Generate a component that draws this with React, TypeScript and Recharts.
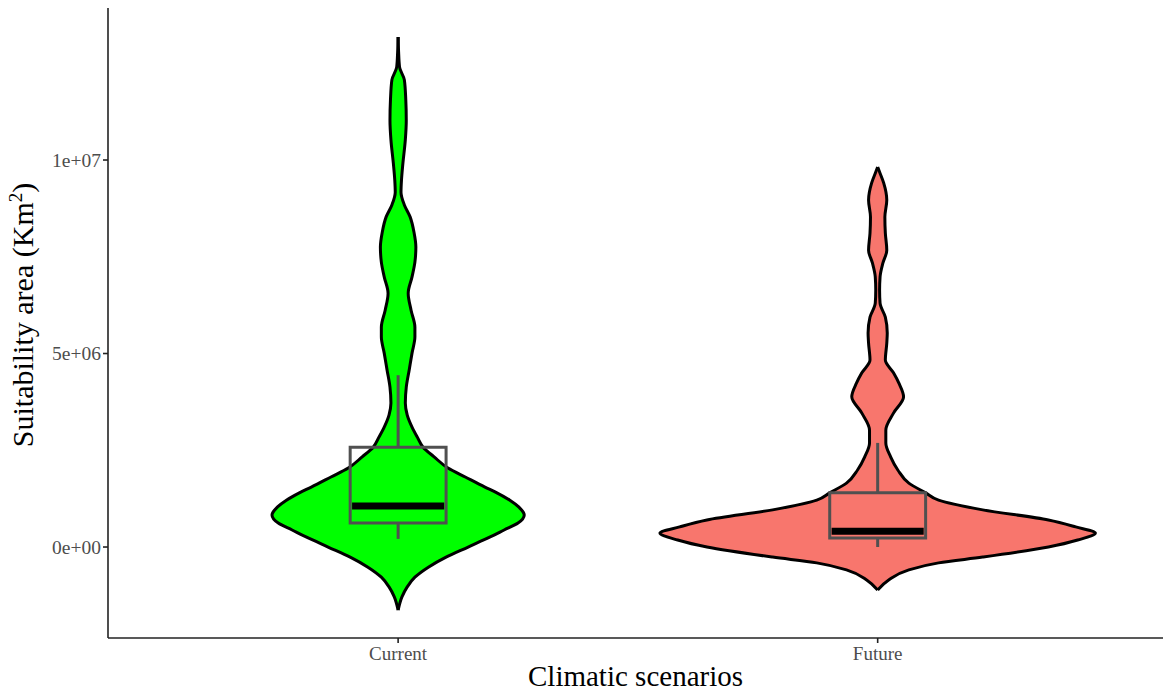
import { ComposedChart, Area, XAxis, YAxis, ReferenceArea, ReferenceLine, Label } from "recharts"

const categories = ["Current", "Future"]
const positions = [1, 2]
const fills = ["#00FF00", "#F8766D"]

// violin outlines: suitability area (Km²) and half width of the violin (category units)
const currentLevels = [
  13.18e6, 12.79e6, 12.4e6, 12.07e6, 11.55e6, 11.03e6, 10.52e6, 9.92e6, 9.48e6, 9.17e6,
  8.84e6, 8.53e6, 8.14e6, 7.75e6, 7.36e6, 6.98e6, 6.56e6, 6.12e6, 5.68e6, 5.43e6,
  5.01e6, 4.57e6, 4.13e6, 3.72e6, 3.41e6, 3.1e6, 2.84e6, 2.58e6, 2.33e6, 2.04e6,
  1.81e6, 1.55e6, 1.4e6, 1.21e6, 1.03e6, 0.83e6, 0.62e6, 0.44e6, 0.26e6, 0,
  -0.26e6, -0.52e6, -0.78e6, -1.03e6, -1.29e6, -1.63e6,
]
const currentHalfWidth = [
  0, 0.001, 0.003, 0.013, 0.016, 0.017, 0.015, 0.01, 0.007, 0.006,
  0.013, 0.025, 0.033, 0.037, 0.035, 0.029, 0.021, 0.027, 0.035, 0.035,
  0.029, 0.023, 0.017, 0.015, 0.019, 0.029, 0.04, 0.052, 0.075, 0.104,
  0.14, 0.181, 0.206, 0.233, 0.252, 0.263, 0.25, 0.221, 0.192, 0.146,
  0.1, 0.063, 0.035, 0.019, 0.008, 0,
]
const futureLevels = [
  9.82e6, 9.69e6, 9.41e6, 8.97e6, 8.53e6, 8.11e6, 7.67e6, 7.34e6, 6.98e6, 6.64e6,
  6.3e6, 5.94e6, 5.53e6, 5.27e6, 4.83e6, 4.5e6, 4.24e6, 3.88e6, 3.46e6, 3.02e6,
  2.69e6, 2.33e6, 1.99e6, 1.65e6, 1.4e6, 1.21e6, 0.96e6, 0.7e6, 0.52e6, 0.36e6,
  0.18e6, 0, -0.26e6, -0.41e6, -0.59e6, -0.85e6, -1.11e6,
]
const futureHalfWidth = [
  0, 0.004, 0.0125, 0.019, 0.015, 0.016, 0.019, 0.011, 0.005, 0.004,
  0.005, 0.016, 0.02, 0.019, 0.016, 0.033, 0.044, 0.054, 0.033, 0.017,
  0.017, 0.027, 0.042, 0.065, 0.1, 0.127, 0.219, 0.356, 0.413, 0.454,
  0.417, 0.356, 0.219, 0.127, 0.065, 0.023, 0,
]

// boxplot statistics
const whiskerLow = [0.21e6, 0.0]
const q1 = [0.62e6, 0.23e6]
const median = [1.06e6, 0.41e6]
const q3 = [2.58e6, 1.4e6]
const whiskerHigh = [4.44e6, 2.69e6]

const yTicks = [0, 5e6, 1e7]
const yTickLabels = ["0e+00", "5e+06", "1e+07"]

const violins = [
  currentLevels.map((v, i) => ({ v, span: [positions[0] - currentHalfWidth[i], positions[0] + currentHalfWidth[i]] })),
  futureLevels.map((v, i) => ({ v, span: [positions[1] - futureHalfWidth[i], positions[1] + futureHalfWidth[i]] })),
]

const boxHalf = 0.1
const boxColor = "#505050"
const font = "'Liberation Serif', 'Times New Roman', serif"

export default function App() {
  return (
    <div style={{ position: "absolute", left: 0, top: 0, background: "#fff" }}>
      <ComposedChart
        width={1163}
        height={691}
        layout="vertical"
        margin={{ top: 8, right: 0, bottom: 0, left: 48 }}
        style={{ fontFamily: font }}
      >
        <XAxis
          type="number"
          domain={[0.395, 2.595]}
          allowDataOverflow
          ticks={positions}
          tickFormatter={(p) => categories[positions.indexOf(p)]}
          height={53}
          stroke="#222"
          strokeWidth={1.6}
          tickSize={5}
          tickMargin={4}
          tick={{ fill: "#4d4d4d", fontSize: 19, fontFamily: font }}
        >
          <Label
            value="Climatic scenarios"
            position="insideBottom"
            offset={5}
            style={{ fill: "#000", fontSize: 29, fontFamily: font }}
          />
        </XAxis>
        <YAxis
          type="number"
          dataKey="v"
          reversed
          domain={[-2.351e6, 13.928e6]}
          allowDataOverflow
          ticks={yTicks}
          tickFormatter={(v) => yTickLabels[yTicks.indexOf(v)]}
          width={60}
          stroke="#222"
          strokeWidth={1.6}
          tickSize={5}
          tick={{ fill: "#4d4d4d", fontSize: 19.5, fontFamily: font }}
        >
          <Label
            content={({ viewBox }: any) => {
              const cy = viewBox.y + viewBox.height / 2 - 8
              return (
                <text
                  x={33}
                  y={cy}
                  transform={`rotate(-90, 33, ${cy})`}
                  textAnchor="middle"
                  style={{ fill: "#000", fontSize: 30, fontFamily: font }}
                >
                  Suitability area (Km<tspan dy={-11} fontSize={19}>2</tspan><tspan dy={11}>)</tspan>
                </text>
              )
            }}
          />
        </YAxis>
        {violins.map((d, i) => (
          <Area
            key={categories[i]}
            data={d}
            dataKey="span"
            type="monotone"
            fill={fills[i]}
            fillOpacity={1}
            stroke="#000"
            strokeWidth={3}
            isAnimationActive={false}
            dot={false}
            activeDot={false}
          />
        ))}
        {positions.map((p, i) => (
          <ReferenceArea
            key={"box" + i}
            x1={p - boxHalf}
            x2={p + boxHalf}
            y1={q1[i]}
            y2={q3[i]}
            fill="none"
            fillOpacity={0}
            stroke={boxColor}
            strokeWidth={3}
            ifOverflow="visible"
          />
        ))}
        {positions.map((p, i) => (
          <ReferenceLine
            key={"wh" + i}
            segment={[{ x: p, y: q3[i] }, { x: p, y: whiskerHigh[i] }]}
            stroke={boxColor}
            strokeWidth={3}
            ifOverflow="visible"
          />
        ))}
        {positions.map((p, i) => (
          <ReferenceLine
            key={"wl" + i}
            segment={[{ x: p, y: whiskerLow[i] }, { x: p, y: q1[i] }]}
            stroke={boxColor}
            strokeWidth={3}
            ifOverflow="visible"
          />
        ))}
        {positions.map((p, i) => (
          <ReferenceLine
            key={"md" + i}
            segment={[{ x: p - boxHalf + 0.004, y: median[i] }, { x: p + boxHalf - 0.004, y: median[i] }]}
            stroke="#000"
            strokeWidth={7}
            ifOverflow="visible"
          />
        ))}
      </ComposedChart>
    </div>
  )
}
